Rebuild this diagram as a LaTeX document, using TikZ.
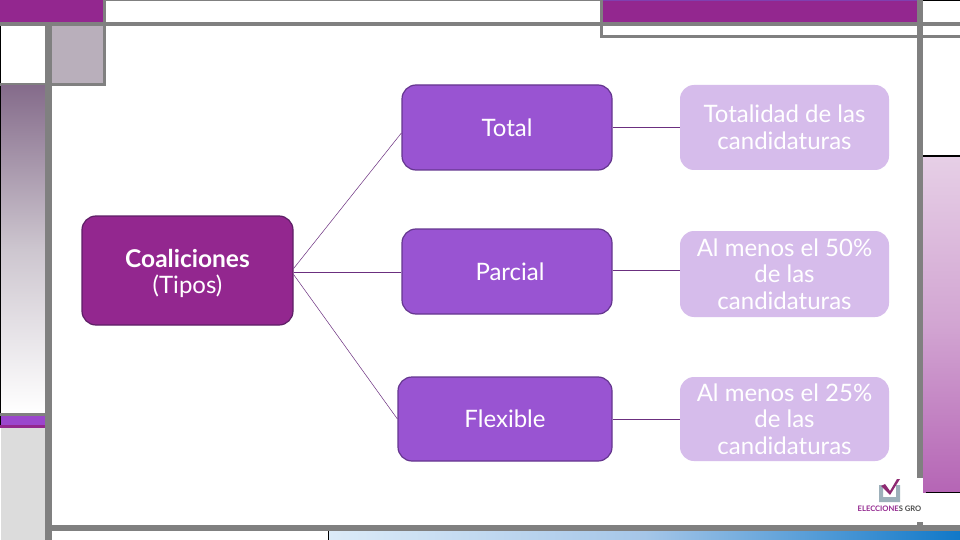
\documentclass[tikz,border=0pt]{standalone}
\usepackage{fontspec}
\setmainfont{Lato}[BoldFont={Lato Bold}]
\definecolor{framegray}{HTML}{808080}
\definecolor{deep}{HTML}{93278F}
\definecolor{deepline}{HTML}{5E1F66}
\definecolor{violet}{HTML}{9954D2}
\definecolor{violetline}{HTML}{65368F}
\definecolor{pale}{HTML}{D6BCEB}
\definecolor{linkc}{HTML}{6B2F7F}
\tikzset{
  x=1pt,y=-1pt,
  boxbase/.style={rounded corners=14pt,minimum height=0pt,inner sep=0pt,align=center,text=white,font=\fontsize{24}{26.6}\selectfont},
  link/.style={draw=linkc,line width=0.8pt},
  thinlink/.style={draw=linkc,line width=0.5pt},
}
\newcommand{\boxat}[7]{% name, x1,y1,x2,y2, style, text
  \node[#6,minimum width=#4pt-#2pt,minimum height=#5pt-#3pt,anchor=center] (#1) at ({(#2+#4)/2},{(#3+#5)/2}) {#7};}
\begin{document}
\begin{tikzpicture}
\useasboundingbox (0,0) rectangle (960,540);
\fill[white] (0,0) rectangle (960,540);
% top left
\fill[deep] (0,0) rectangle (103,22);
\fill[framegray] (105,0) rectangle (600,1);
\fill[framegray] (0,22) rectangle (960,26);
\fill[framegray] (103,0) rectangle (106,85);
\fill[fill={rgb,255:red,185;green,175;blue,187}] (52,26) rectangle (103,83);
\fill[framegray] (0,83) rectangle (106,86);
\fill[black] (0,26) rectangle (1,83);
% left column
\fill[top color={rgb,255:red,133;green,108;blue,139},bottom color=white,middle color={rgb,255:red,205;green,198;blue,207},shading angle=0] (1,86) rectangle (45,413);
\fill[black] (0,86) rectangle (1,428);
\fill[framegray] (0,413) rectangle (45,416);
\fill[fill={rgb,255:red,155;green,70;blue,205}] (1,416) rectangle (45,425);
\fill[deep] (0,425) rectangle (48,428);
\fill[fill={rgb,255:red,220;green,220;blue,220}] (1,428) rectangle (45,540);
\fill[framegray] (45,26) rectangle (52,540);
% top right
\fill[deep] (602,0) rectangle (917,22);
\fill[fill={rgb,255:red,128;green,64;blue,176}] (602,0) rectangle (917,1);
\fill[framegray] (600,0) rectangle (603,38);
\fill[framegray] (600,35) rectangle (960,38);
\fill[black] (923,0) rectangle (960,1);
% right column
\fill[top color={rgb,255:red,230;green,207;blue,230},bottom color={rgb,255:red,181;green,101;blue,181},middle color={rgb,255:red,210;green,165;blue,210}] (923,157) rectangle (960,492);
\fill[black] (920,155) rectangle (960,157);
\fill[black] (926,492) rectangle (960,493);
\fill[framegray] (917,0) rectangle (923,478);
% bottom
\fill[framegray] (52,525) rectangle (960,531);
\fill[framegray] (917,522) rectangle (923,525);
\shade[left color={rgb,255:red,220;green,235;blue,248},right color={rgb,255:red,16;green,120;blue,200},middle color={rgb,255:red,165;green,198;blue,232}] (328,531) rectangle (960,540);
\fill[black] (328,531) rectangle (329,540);
% logo
\fill[fill={rgb,255:red,157;green,176;blue,186}] (879,485) -- (883,485) -- (883,497) -- (896,497) -- (896,485) -- (900,485) -- (900,502) -- (879,502) -- cycle;
\fill[fill={rgb,255:red,142;green,42;blue,114}] (881,486) -- (885,484) -- (890,491) -- (897,479) -- (900,479) -- (890,495) -- cycle;
\node[inner sep=0pt,font=\bfseries\fontsize{7.6}{8}\selectfont] (logotext) at (889.5,508.5) {\textcolor{deep}{ELECCIONE}\textcolor{black!70}{S GRO}};
% boxes
\boxat{coal}{82}{216}{293}{325}{boxbase,fill=deep,draw=deepline,line width=1.2pt}{\rule{0pt}{24pt}{\fontsize{24.5}{26.6}\selectfont\bfseries Coaliciones}\\(Tipos)}
\boxat{total}{402}{85}{612}{170}{boxbase,fill=violet,draw=violetline,line width=1.2pt}{Total}
\boxat{parcial}{402}{229}{612}{314}{boxbase,fill=violet,draw=violetline,line width=1.2pt}{\hspace{6pt}Parcial}
\boxat{flex}{398}{377}{612}{461}{boxbase,fill=violet,draw=violetline,line width=1.2pt}{Flexible}
\boxat{rone}{680}{85}{889}{170}{boxbase,fill=pale}{Totalidad de las\\candidaturas}
\boxat{rtwo}{680}{231}{889}{317}{boxbase,fill=pale}{Al menos el 50\%\\de las\\candidaturas}
\boxat{rthree}{680}{377}{889}{461}{boxbase,fill=pale}{Al menos el 25\%\\de las\\candidaturas}
% connectors
\draw[thinlink] ([yshift=2pt]coal.east) -- ([yshift=-5.5pt]total.west);
\draw[link] ([yshift=-1.5pt]coal.east) -- ([yshift=-0.5pt]parcial.west);
\draw[thinlink] ([yshift=-4pt]coal.east) -- (flex.west);
\draw[link] (total.east) -- (rone.west);
\draw[link] ([yshift=1pt]parcial.east) -- ([yshift=3.5pt]rtwo.west);
\draw[link] (flex.east) -- (rthree.west);
\end{tikzpicture}
\end{document}
